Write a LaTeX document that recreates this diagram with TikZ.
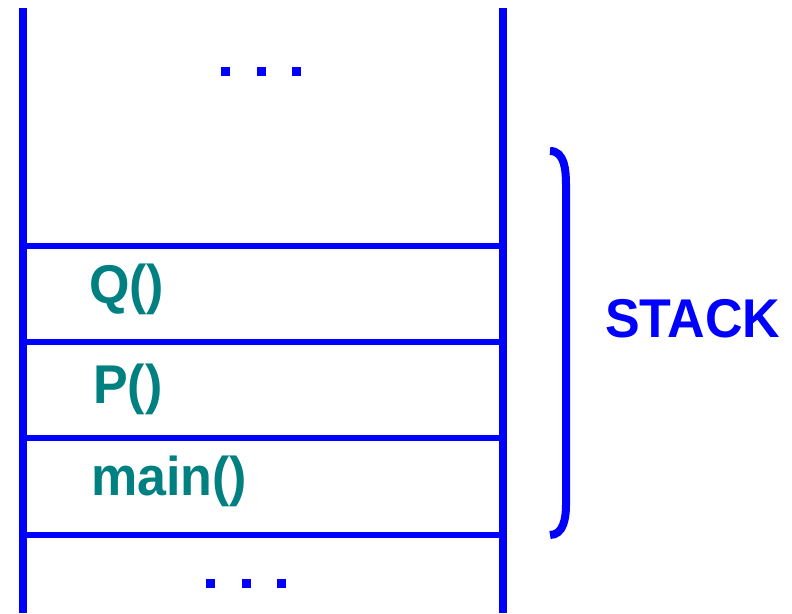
\documentclass[tikz,border=0pt]{standalone}
\usepackage{fontspec}
\setmainfont{Liberation Sans}
\definecolor{frameteal}{RGB}{0,128,128}
\definecolor{stackblue}{RGB}{0,0,255}
\tikzset{
    wall/.style={draw=stackblue,line width=8pt},
    rung/.style={draw=stackblue,line width=6.5pt},
    framelabel/.style={anchor=base west,inner sep=0pt,text=frameteal,
        font=\bfseries\fontsize{52}{60}\selectfont},
    dot/.style={fill=stackblue,minimum size=9pt,inner sep=0pt},
}
\begin{document}
\begin{tikzpicture}[x=1pt,y=-1pt]
        \useasboundingbox (0,0) rectangle (792,613);
        %% Walls
        \draw[wall] (23,8) -- (23,613);
        \draw[wall] (503,8) -- (503,613);
        %% Frames
        \foreach \y in {246,342,438,535}
            \draw[rung] (23,\y) -- (503,\y);
        \node[framelabel] (q) at (89,303) {\scalebox{1}[1.05]{Q()}};
        \node[framelabel] (p) at (93,403) {\scalebox{1}[1.05]{P()}};
        \node[framelabel] (main) at (91,495) {\scalebox{1}[1.05]{main()}};
        %% More stack above and below
        \foreach \x/\i in {225.5/1,261.5/2,296.5/3}
            \node[dot] (top\i) at (\x,71.5) {};
        \foreach \x/\i in {210.5/1,246.5/2,281.5/3}
            \node[dot] (bot\i) at (\x,583.5) {};
        %% Brace
        \draw[wall,line cap=butt] (550,151) to[out=0,in=90] (566,185)
            -- (566,505) to[out=-90,in=0] (550,535);
        \node[anchor=base west,inner sep=0pt,text=stackblue,
            font=\bfseries\fontsize{52}{60}\selectfont] (stack) at (605,337)
            {\scalebox{1}[1.05]{STACK}};
    \end{tikzpicture}
\end{document}
